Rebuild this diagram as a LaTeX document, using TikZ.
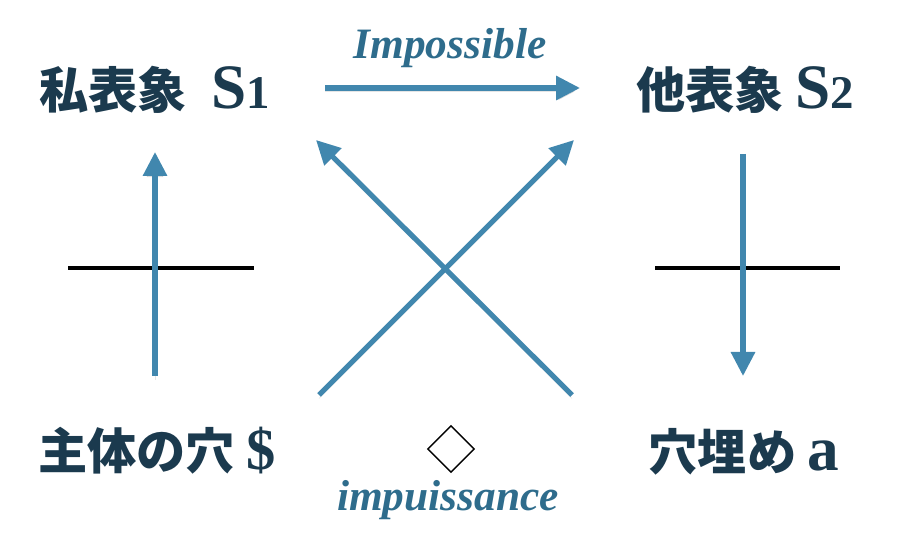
\documentclass[tikz,border=0pt]{standalone}
\usepackage{fontspec}
\setmainfont{Liberation Serif}
\newfontfamily\jpfont{Noto Sans CJK JP}
\usetikzlibrary{arrows.meta, shapes.geometric}
\definecolor{txtcol}{HTML}{1B3A4E}
\definecolor{arrcol}{HTML}{4187AE}
\definecolor{labcol}{HTML}{2E6C8C}
\newcommand\symS[2]{{\rmfamily\bfseries\fontsize{54}{54}\selectfont #1\fontsize{40}{40}\selectfont #2}}

\begin{document}
\begin{tikzpicture}[x=0.03cm,y=-0.03cm,>={Triangle[length=7.2mm,width=7mm]}]
\tikzset{
  term/.style={txtcol,inner sep=0pt,font=\jpfont\bfseries\fontsize{42}{42}\selectfont},
  lbl/.style={labcol,inner sep=0pt,anchor=base,font=\bfseries\itshape\fontsize{37}{37}\selectfont},
  arr/.style={->,arrcol,line width=4.4pt,
    preaction={draw=black,opacity=0.10,transform canvas={yshift=-3pt}}},
  bar/.style={black,line width=3pt}
}
\useasboundingbox (0,0) rectangle (901,545);
% the four places
\node[term] (priv) at (155,90) {私表象\hspace{0.5em}\symS{S}{1}};
\node[term] (other) at (745,90) {他表象 \symS{S}{2}};
\node[term] (subj) at (157,451) {主体の穴 {\rmfamily\bfseries\fontsize{50}{50}\selectfont\$}};
\node[term] (fill) at (744,452) {穴埋め \symS{a}{}};
\node[draw,diamond,line width=1.2pt,minimum size=1.4cm,inner sep=0pt] (lozenge) at (451,449) {};
\node[lbl] (imp) at (450,59) {Impossible};
\node[lbl] (impu) at (448,510) {impuissance};
% arrow ends
\coordinate (a0) at (325,88);  \coordinate (a1) at (580,88);
\coordinate (l0) at (155,376); \coordinate (l1) at (155,152);
\coordinate (r0) at (743,154); \coordinate (r1) at (743,376);
\coordinate (d0) at (319,395); \coordinate (d1) at (574,140);
\coordinate (e0) at (572,395); \coordinate (e1) at (316,140);
\coordinate (bl0) at (68,268);  \coordinate (bl1) at (254,268);
\coordinate (br0) at (655,268); \coordinate (br1) at (840,268);
\draw[bar] (bl0) -- (bl1);
\draw[bar] (br0) -- (br1);
\draw[arr] (a0) -- (a1);
\draw[arr] (l0) -- (l1);
\draw[arr] (r0) -- (r1);
\draw[arr] (d0) -- (d1);
\draw[arr] (e0) -- (e1);
\end{tikzpicture}
\end{document}
